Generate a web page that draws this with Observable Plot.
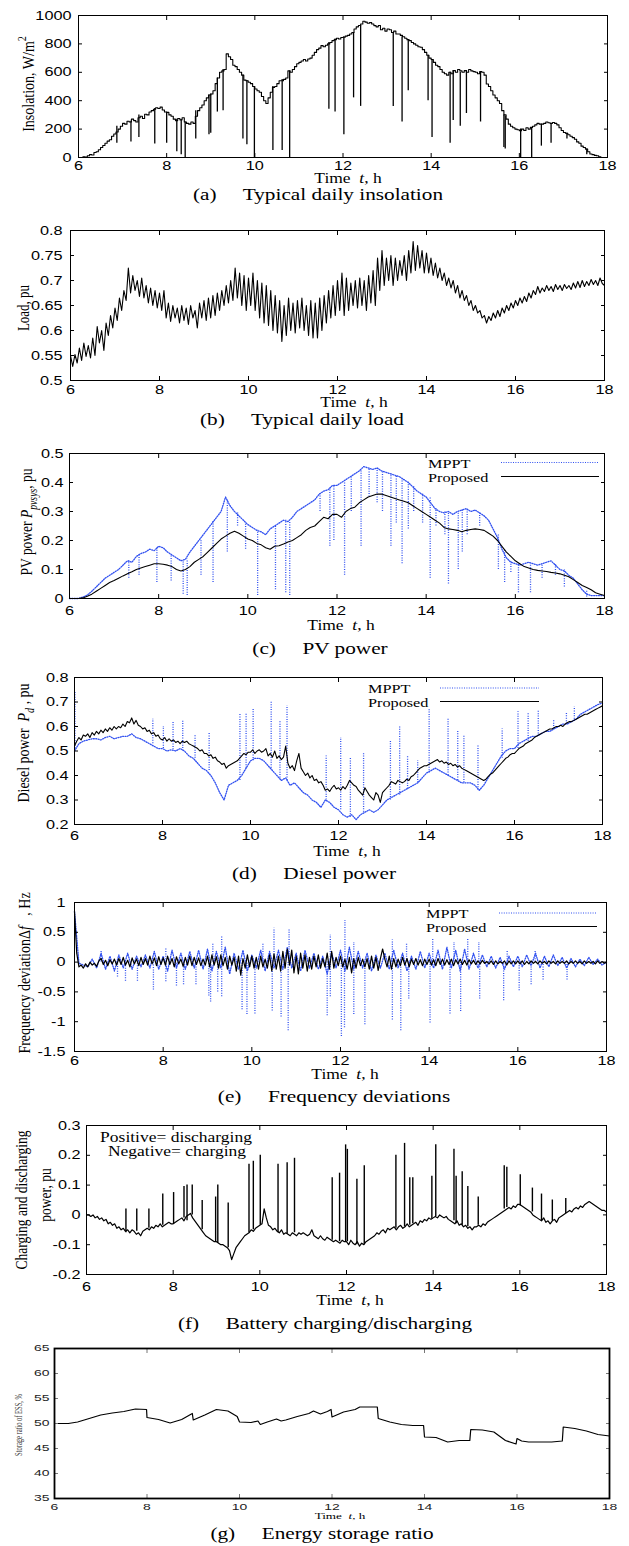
<!DOCTYPE html>
<html><head><meta charset="utf-8">
<script src="https://cdn.jsdelivr.net/npm/d3@7"></script>
<script src="https://cdn.jsdelivr.net/npm/@observablehq/plot@0.6"></script>
<style>
html,body{margin:0;padding:0;background:#fff;}
#wrap{position:relative;width:629px;height:1546px;background:#fff;overflow:hidden;}
</style></head><body><div id="wrap"></div>
<script>
// ---------------- DATA ----------------
const xTicks = [6, 8, 10, 12, 14, 16, 18];
const insolTicks = [0, 200, 400, 600, 800, 1000];
const loadTicks = [0.5, 0.55, 0.6, 0.65, 0.7, 0.75, 0.8];
const pvTicks = [0, 0.1, 0.2, 0.3, 0.4, 0.5];
const dieselTicks = [0.2, 0.3, 0.4, 0.5, 0.6, 0.7, 0.8];
const freqTicks = [-1.5, -1, -0.5, 0, 0.5, 1];
const battTicks = [-0.2, -0.1, 0, 0.1, 0.2, 0.3];
const socTicks = [35, 40, 45, 50, 55, 60, 65];

// insolation, W/m2, every 0.05 h from 6:00
const insolation = [
0,0,5,3,12,20,18,35,40,55,70,85,100,115,125,150,165,180,200,220,
240,235,255,250,270,260,250,280,290,275,305,300,320,330,340,350,345,355,335,320,
318,300,290,270,260,275,265,280,250,240,235,250,240,290,330,350,370,400,420,440,
447,470,520,560,600,610,620,730,710,690,650,640,620,600,580,545,540,530,520,500,
482,470,460,430,400,380,420,460,494,500,520,540,541,550,560,610,600,620,640,660,
670,680,690,680,694,700,720,740,760,770,788,780,790,800,810,823,830,840,835,845,
847,855,860,870,880,905,920,930,940,960,953,945,950,940,929,920,930,900,910,890,
905,900,880,890,870,870,860,850,840,830,823,810,800,790,780,776,760,740,720,700,
690,670,650,640,620,600,590,580,600,590,612,600,620,610,600,612,600,620,610,605,
600,590,605,600,580,518,500,470,440,420,400,380,330,300,270,235,220,210,200,195,
188,200,190,210,200,212,220,230,240,235,235,240,250,245,240,247,240,230,210,190,
176,170,160,150,140,129,110,100,80,70,59,40,25,20,15,12,5,0,0,0,
0];
// insolation dips: [time, low, high]
const insolationDips = [
[6.87,100,220],[7.19,110,255],[7.37,140,300],[7.73,95,345],[8.0,100,318],[8.23,40,270],[8.33,20,265],[8.42,0,250],
[8.66,130,330],[8.96,160,440],[9.0,170,447],[9.15,320,560],[9.28,330,620],[9.73,130,580],[9.82,90,540],[9.99,0,500],
[10.41,50,500],[10.62,50,550],[10.79,0,610],[11.68,340,810],[11.82,320,835],[12.02,160,850],[12.24,420,880],[12.4,360,930],
[13.14,360,880],[13.34,250,850],[13.48,470,830],[13.93,400,720],[14.02,140,690],[14.43,100,600],[14.5,260,612],[14.66,220,600],
[14.8,310,612],[15.12,250,600],[15.65,70,300],[15.68,60,290],[16.03,0,200],[16.28,0,210],[16.5,80,235],[16.72,100,240],
[17.08,130,170],[17.53,20,59]];

// load, pu, every 0.05 h
const load = [
.550,.528,.552,.535,.565,.540,.575,.548,.570,.545,.585,.550,.608,.575,.600,.560,.615,.590,.630,.605,
.645,.620,.665,.640,.680,.660,.725,.675,.710,.680,.700,.668,.705,.665,.690,.655,.685,.650,.680,.645,
.675,.640,.680,.625,.655,.618,.650,.625,.645,.615,.650,.620,.645,.612,.650,.625,.640,.605,.655,.625,
.660,.620,.665,.625,.670,.630,.675,.640,.680,.650,.690,.655,.700,.660,.725,.665,.715,.650,.710,.640,
.705,.650,.715,.640,.700,.625,.695,.615,.690,.610,.680,.600,.670,.595,.660,.578,.650,.590,.665,.600,
.655,.595,.660,.605,.665,.600,.650,.590,.660,.585,.655,.585,.665,.600,.670,.615,.680,.625,.690,.630,
.700,.640,.715,.630,.705,.640,.695,.650,.700,.645,.705,.650,.700,.640,.710,.655,.720,.650,.745,.680,
.760,.690,.745,.700,.750,.690,.745,.700,.740,.710,.750,.700,.760,.715,.778,.720,.770,.725,.760,.715,
.755,.715,.745,.710,.735,.705,.725,.700,.715,.690,.705,.685,.700,.675,.690,.665,.680,.660,.670,.650,
.660,.640,.650,.635,.640,.625,.630,.615,.628,.620,.635,.625,.640,.628,.645,.635,.650,.640,.655,.645,
.660,.650,.665,.655,.668,.658,.675,.665,.680,.672,.688,.675,.685,.678,.690,.680,.688,.678,.692,.682,
.690,.680,.692,.684,.690,.682,.695,.685,.698,.686,.700,.688,.698,.690,.702,.692,.700,.690,.705,.694,
.690];

// PV power, pu, every 0.1 h
const pvMppt = [
0,0,0,.005,.012,.025,.04,.055,.07,.08,
.09,.1,.115,.13,.125,.145,.155,.16,.17,.165,
.18,.175,.16,.15,.14,.13,.135,.16,.18,.2,
.22,.24,.26,.28,.3,.35,.32,.3,.285,.27,
.255,.245,.235,.23,.22,.24,.25,.26,.27,.265,
.28,.3,.31,.32,.33,.34,.36,.37,.375,.39,
.39,.4,.41,.42,.43,.44,.455,.45,.445,.45,
.44,.435,.43,.425,.42,.41,.4,.385,.37,.36,
.35,.33,.31,.3,.295,.3,.29,.3,.305,.31,
.3,.305,.295,.285,.27,.24,.21,.17,.14,.125,
.12,.115,.12,.125,.12,.115,.12,.125,.13,.115,
.1,.095,.08,.07,.05,.03,.015,.01,.01,.01,
.01];
const pvMpptDips = [
[7.33,.07,.13],[7.56,.08,.15],[7.96,.055,.175],[8.28,.06,.15],[8.55,.015,.13],[8.64,.01,.135],[8.95,.08,.2],[9.22,.055,.27],
[9.54,.16,.34],[9.77,.25,.3],[9.95,.17,.26],[10.22,.01,.235],[10.62,.03,.25],[10.85,.02,.27],[10.94,.01,.265],[11.62,.3,.36],
[11.84,.18,.38],[11.93,.2,.39],[12.17,.08,.4],[12.32,.3,.42],[12.54,.18,.44],[12.72,.35,.45],[12.9,.33,.45],[13.02,.3,.44],
[13.21,.18,.43],[13.33,.26,.425],[13.46,.12,.41],[13.6,.24,.405],[13.72,.3,.385],[13.92,.26,.36],[14.09,.07,.35],[14.22,.25,.31],
[14.42,.22,.3],[14.5,.05,.295],[14.72,.1,.3],[14.81,.16,.305],[14.92,.22,.31],[15.2,.25,.295],[15.62,.1,.22],[15.76,.055,.17],
[15.9,.09,.13],[16.07,.02,.12],[16.34,.02,.12],[16.6,.07,.12],[16.9,.08,.12],[17.1,.04,.1],[17.6,.005,.03]];
const pvProposed = [
0,0,0,.002,.008,.015,.025,.035,.045,.055,
.062,.07,.078,.085,.092,.1,.105,.11,.115,.12,
.12,.118,.115,.11,.1,.095,.1,.11,.125,.135,
.145,.16,.175,.19,.205,.215,.225,.232,.225,.215,
.205,.2,.19,.185,.175,.17,.18,.182,.188,.195,
.2,.21,.22,.235,.245,.25,.265,.28,.275,.29,
.29,.28,.3,.31,.315,.33,.34,.35,.355,.36,
.36,.355,.35,.345,.34,.335,.33,.32,.31,.3,
.29,.28,.27,.26,.245,.24,.238,.235,.23,.235,
.238,.24,.238,.235,.225,.215,.2,.18,.16,.145,
.13,.12,.11,.105,.1,.097,.095,.093,.09,.088,
.085,.08,.075,.065,.055,.045,.038,.03,.02,.015,
.01];

// Diesel power, pu
const dieselMppt = [ // every 0.1 h
.50,.53,.54,.545,.55,.55,.545,.555,.56,.55,
.555,.56,.56,.57,.555,.55,.54,.53,.52,.51,
.51,.50,.505,.50,.51,.50,.48,.47,.45,.43,
.42,.40,.37,.33,.30,.36,.37,.38,.40,.43,
.46,.47,.47,.46,.44,.42,.40,.38,.39,.36,
.37,.35,.33,.32,.30,.29,.27,.30,.29,.27,
.26,.24,.23,.24,.22,.24,.25,.26,.25,.26,
.28,.30,.31,.32,.33,.34,.35,.36,.37,.39,
.41,.42,.43,.42,.41,.40,.39,.38,.37,.37,
.37,.36,.34,.36,.39,.42,.45,.48,.50,.51,
.51,.53,.54,.55,.56,.56,.57,.58,.58,.59,
.60,.61,.61,.62,.63,.65,.66,.67,.68,.69,
.695];
const dieselMpptPeaks = [
[6.01,.50,.74],[7.78,.53,.63],[8.02,.51,.6],[8.24,.505,.62],[8.46,.5,.625],[8.74,.47,.565],[9.06,.42,.575],[9.76,.38,.65],
[9.9,.43,.655],[10.06,.46,.67],[10.47,.43,.70],[10.67,.39,.62],[10.83,.38,.685],[11.72,.3,.48],[12.05,.26,.555],[12.27,.23,.47],
[12.57,.25,.49],[13.18,.30,.545],[13.39,.32,.60],[13.57,.345,.48],[13.8,.37,.46],[14.06,.41,.67],[14.49,.40,.635],[14.71,.38,.58],
[14.85,.37,.56],[15.17,.34,.52],[15.72,.47,.59],[16.08,.51,.66],[16.31,.54,.655],[16.54,.56,.665],[16.89,.59,.63],[17.18,.61,.655],
[17.36,.62,.68]];
const dieselProposed = [ // every 0.05 h
.520,.540,.555,.545,.565,.560,.570,.555,.575,.565,.580,.570,.585,.575,.590,.580,.595,.585,.600,.590,
.600,.595,.610,.600,.620,.615,.635,.610,.625,.605,.600,.590,.595,.580,.585,.570,.575,.560,.565,.550,
.545,.555,.540,.550,.540,.545,.535,.540,.530,.540,.535,.540,.530,.525,.520,.515,.510,.500,.505,.490,
.490,.480,.485,.470,.475,.460,.455,.445,.450,.430,.440,.445,.450,.455,.460,.470,.480,.490,.485,.495,
.495,.505,.490,.500,.505,.495,.500,.510,.480,.490,.475,.500,.470,.480,.465,.475,.520,.450,.430,.440,
.420,.460,.490,.430,.415,.400,.410,.390,.400,.380,.385,.370,.375,.360,.340,.345,.335,.350,.360,.345,
.350,.340,.355,.345,.360,.380,.370,.360,.355,.340,.330,.320,.350,.335,.320,.310,.300,.330,.320,.290,
.330,.340,.350,.360,.375,.370,.365,.380,.375,.370,.375,.385,.380,.395,.400,.410,.420,.430,.435,.440,
.440,.445,.450,.455,.460,.465,.455,.460,.450,.455,.445,.450,.440,.445,.435,.440,.430,.425,.420,.415,
.410,.405,.400,.395,.390,.385,.380,.385,.395,.405,.410,.420,.430,.440,.450,.460,.470,.475,.485,.490,
.490,.500,.510,.515,.520,.530,.535,.540,.545,.555,.560,.565,.570,.575,.580,.585,.590,.590,.595,.600,
.600,.605,.600,.610,.615,.620,.620,.625,.630,.635,.640,.645,.650,.650,.655,.660,.665,.670,.675,.680,
.685];

// Frequency deviation, Hz
const freqMppt = [ // every 0.1 h
.85,-.02,-.05,-.08,.05,-.1,.15,-.12,.1,-.15,
.12,-.1,.15,-.12,.1,-.08,.12,-.1,.18,-.12,
.1,-.15,.2,-.1,.15,-.12,.18,-.1,.2,-.12,
.22,-.15,.18,-.1,.25,-.2,.15,-.12,.2,-.15,
.12,-.1,.2,-.15,.18,-.1,.2,-.12,.25,-.1,
.15,-.15,.2,-.1,.15,-.12,.1,-.2,.15,-.1,
.2,-.15,.25,-.12,.18,-.1,.15,-.15,.12,-.1,
.15,-.12,.2,-.1,.15,-.15,.1,-.12,.18,-.1,
.15,-.1,.2,-.12,.25,-.1,.2,-.15,.22,-.12,
.15,-.1,.12,-.08,.1,-.1,.08,-.12,.1,-.08,
.1,-.08,.12,-.06,.15,-.1,.1,-.08,.12,-.06,
.08,-.1,.06,-.08,.05,-.06,.08,-.04,.05,-.05,
0];
const freqMpptSpikes = [
[6.97,-.25,0],[7.15,-.32,0],[7.42,-.32,0],[7.78,-.47,0],[8.06,-.33,0],[8.3,-.4,0],[8.46,-.38,0],[8.74,-.38,0],
[9.03,-.57,0],[9.07,-.67,0],[9.23,-.5,0],[9.32,-.58,0],[9.78,-.8,0],[9.89,-.88,0],[10.07,-.87,0],[10.46,-.82,0],
[10.66,-.92,0],[10.82,-1.15,0],[11.7,-.9,0],[11.77,-.58,0],[12.02,-1.25,0],[12.09,-1.1,0],[12.3,-.88,0],[12.55,-1.05,0],
[13.17,-.97,0],[13.36,-1.15,0],[13.54,-.62,0],[14.02,-1.02,0],[14.47,-.87,0],[14.71,-.83,0],[15.14,-.62,0],[15.68,-.65,0],
[16.03,-.48,0],[16.3,-.38,0],[16.57,-.3,0],[17.11,-.3,0],
[6.6,0,.18],[8.06,0,.24],[9.12,0,.3],[9.32,0,.43],[10.25,0,.3],[10.5,0,.57],[10.84,0,.55],[11.77,0,.45],
[12.1,0,.7],[12.3,0,.33],[13.17,0,.37],[13.49,0,.3],[14.08,0,.4],[14.56,0,.33],[14.87,0,.38],[15.12,0,.33],
[15.76,0,.18],[16.39,0,.2]];
const freqProposed = [ // every 0.05 h
.85,.15,-.08,-.05,-.1,-.03,-.08,0,-.05,-.02,-.07,.02,.06,-.04,.03,-.06,.04,-.03,.05,-.05,
.06,-.04,.08,-.05,.03,-.08,.07,-.03,.05,-.06,.08,-.04,.06,-.05,.1,-.03,.07,-.06,.09,-.04,
.07,-.05,.1,-.04,.06,-.08,.09,-.03,.05,-.07,.08,-.05,.1,-.06,.08,-.04,.07,-.06,.05,-.05,
.1,-.08,.12,-.05,.09,-.1,.12,-.06,.08,-.12,.1,-.05,.08,-.15,.1,-.22,.06,-.1,.12,-.08,
.1,-.1,.08,-.12,.1,-.08,.05,-.1,.12,-.15,.14,-.12,.1,-.15,.18,-.1,.22,-.05,.2,-.18,
.1,-.2,.15,-.1,.12,-.15,.08,-.12,.1,-.08,.12,-.1,.06,-.08,.15,-.12,.18,-.1,.08,-.06,
.1,-.08,.05,-.12,.08,-.18,.06,-.1,.08,-.06,.05,-.08,.06,-.12,.1,-.1,.08,-.14,.06,.22,
.05,-.08,.1,-.12,.06,-.08,.05,-.06,.08,-.05,.06,-.08,.05,-.04,.06,-.05,.04,-.06,.05,-.04,
.05,-.05,.04,-.06,.06,-.04,.05,-.05,.04,-.04,.05,-.06,.04,-.03,.05,-.04,.03,-.05,.04,-.03,
.03,-.04,.02,-.03,.03,-.02,.01,-.03,.02,-.04,.02,-.03,.01,-.02,.02,-.05,.02,-.03,.02,-.03,
.02,-.03,.02,-.04,.01,-.03,.02,-.02,.01,-.03,.02,-.02,.01,-.03,.02,-.02,.01,-.03,.02,-.02,
.01,-.02,.02,-.03,.01,-.02,.02,-.02,.01,-.03,.02,-.02,.01,-.02,.01,-.03,.02,-.02,.01,-.02,
0];

// Battery charging/discharging power, pu, every 0.05 h
const battery = [
0,0,-.005,0,-.01,-.005,-.015,-.01,-.02,-.015,-.03,-.025,-.035,-.03,-.045,-.04,-.05,-.045,-.055,-.05,
-.06,-.05,-.055,-.065,-.06,-.07,-.055,-.05,-.045,-.05,-.04,-.045,-.035,-.04,-.03,-.04,-.035,-.03,-.025,-.03,
-.03,-.025,-.02,-.015,-.01,-.02,-.005,0,.005,-.01,-.02,-.03,-.04,-.05,-.06,-.07,-.075,-.08,-.085,-.09,
-.09,-.095,-.1,-.1,-.105,-.11,-.12,-.15,-.13,-.11,-.1,-.09,-.08,-.07,-.065,-.06,-.05,-.055,-.045,-.04,
-.035,-.03,.02,-.01,-.035,-.04,-.05,-.045,-.055,-.06,-.05,-.065,-.06,-.065,-.07,-.06,-.065,-.07,-.06,-.065,
-.06,-.065,-.07,-.065,-.05,-.07,-.075,-.08,-.07,-.08,-.085,-.075,-.08,-.085,-.09,-.085,-.09,-.095,-.085,-.09,
-.09,-.1,-.085,-.095,-.1,-.09,-.105,-.095,-.1,-.09,-.085,-.08,-.075,-.07,-.06,-.065,-.055,-.05,-.06,-.045,
-.05,-.045,-.04,-.05,-.04,-.035,-.045,-.04,-.03,-.04,-.035,-.03,-.025,-.035,-.02,-.025,-.015,-.02,-.01,-.015,
-.01,-.005,-.01,0,-.005,-.01,-.005,-.015,-.02,-.025,-.03,-.02,-.035,-.03,-.04,-.035,-.045,-.04,-.05,-.04,
-.04,-.035,-.04,-.03,-.035,-.025,-.02,-.015,-.01,-.005,0,.005,.01,.015,.02,.025,.02,.03,.025,.035,
.035,.03,.025,.02,.015,.01,0,-.005,-.01,-.015,-.02,-.01,-.025,-.02,-.03,-.02,-.015,-.025,-.01,-.005,
0,.005,.01,.015,.01,.02,.025,.02,.03,.025,.035,.04,.045,.04,.035,.03,.025,.02,.015,.015,
.01];
const batteryPeaks = [
[6.91,-.06,.02],[7.16,-.055,.02],[7.44,-.045,.02],[7.76,-.035,.07],[8.01,-.03,.075],[8.25,-.01,.095],[8.32,-.02,.1],[8.44,0,.1],
[8.67,-.05,.048],[8.98,-.09,.06],[9.03,-.095,.1],[9.27,-.11,.04],[9.75,-.06,.17],[9.85,-.05,.18],[10.01,-.035,.2],[10.42,-.06,.17],
[10.63,-.065,.175],[10.8,-.06,.19],[11.67,-.085,.125],[11.84,-.09,.14],[11.98,-.09,.235],[12.02,-.09,.22],[12.24,-.1,.12],[12.41,-.1,.165],
[13.14,-.045,.2],[13.34,-.04,.24],[13.46,-.035,.125],[13.53,-.03,.125],[13.97,-.015,.13],[14.06,-.005,.235],[14.48,-.02,.22],[14.53,-.03,.13],
[14.67,-.035,.145],[14.8,-.04,.095],[15.04,-.035,.06],[15.64,.02,.165],[15.7,.025,.16],[16.01,.03,.135],[16.29,.01,.09],[16.5,-.02,.07],
[16.75,-.02,.05],[17.06,.005,.055]];

// Energy storage ratio, %
const socTime = [6,6.3,6.5,6.75,7,7.25,7.5,7.75,7.99,8,8.25,8.5,8.75,8.98,9,9.25,9.5,9.75,9.95,10,10.25,10.4,10.45,10.6,10.7,10.8,10.9,11,11.25,11.5,11.6,11.75,11.9,11.98,12,12.25,12.5,12.6,12.98,13,13.25,13.5,13.75,13.98,14,14.25,14.5,14.75,14.98,15,15.25,15.5,15.75,15.98,16,16.1,16.25,16.5,16.75,16.98,17,17.25,17.5,17.75,18];
const socValue = [50,50,50.3,51,51.7,52.1,52.4,52.9,52.8,51.2,50.8,50.1,50.8,52,50.7,51.7,52.8,52.5,51.4,50.3,50.2,50.5,49.8,50.3,50.6,50.9,50.5,50.7,51.4,52,52.5,51.9,52.4,52.8,51.3,52.3,52.8,53.3,53.3,51,50.3,49.8,49.6,49.6,47.3,47.2,46.3,46.6,46.6,48.8,48.7,48.3,46.6,45.9,47,46.5,46.3,46.3,46.3,46.5,49.3,49,48.5,47.8,47.5];

// ---------------- DRAWING ----------------
const K = 1.25;
const BLUE = "#3050f0";
const SERIF = "'Liberation Serif','Times New Roman',serif";
const NS = "http://www.w3.org/2000/svg";
const wrap = document.getElementById("wrap");

const series = (vals, step) => vals.map((v, i) => ({t: 6 + i * step, v}));
const segs = arr => arr.map(([t, lo, hi]) => ({t, lo, hi}));

function panel(c) {
  const k = c.k ?? K, font = c.font ?? 13, tl = c.tickLen ?? 4, tc = c.tickColor ?? "#000";
  const fmt = c.fmt ?? (d => String(+d.toFixed(2)));
  const chart = Plot.plot({
    width: 629, height: c.bottom - c.top,
    marginLeft: c.fl, marginRight: 629 - c.fr, marginTop: c.ft - c.top, marginBottom: c.bottom - c.fb,
    x: {domain: [6, 18]},
    y: {domain: c.yDomain},
    style: {fontFamily: "'Liberation Sans', Arial, sans-serif", fontSize: font + "px", color: c.labelColor ?? "#000", background: "transparent", overflow: "visible"},
    marks: [
      ...c.marks,
      Plot.axisX(xTicks, {anchor: "bottom", tickSize: 0, tickPadding: c.padX, label: null, tickFormat: d => String(d)}),
      Plot.axisX(xTicks, {anchor: "bottom", tickSize: -tl, fill: "none", stroke: tc, label: null}),
      Plot.axisX(xTicks, {anchor: "top", tickSize: -tl, fill: "none", stroke: tc, label: null}),
      Plot.axisY(c.yTicks, {anchor: "left", tickSize: 0, tickPadding: c.padY, label: null, tickFormat: fmt}),
      Plot.axisY(c.yTicks, {anchor: "left", tickSize: -tl, fill: "none", stroke: tc, label: null}),
      Plot.axisY(c.yTicks, {anchor: "right", tickSize: -tl, fill: "none", stroke: tc, label: null}),
      Plot.frame({stroke: "#000", strokeWidth: c.frameW ?? 1})
    ]
  });
  chart.style.position = "absolute";
  chart.style.left = "0px";
  chart.style.top = c.top + "px";
  chart.querySelectorAll('g[aria-label$="tick label"] text').forEach(t => {
    const tr = t.getAttribute("transform") || "";
    t.setAttribute("transform", tr + ` scale(${k},1)`);
  });
  wrap.appendChild(chart);
  const svg = chart.tagName.toLowerCase() === "svg" ? chart : chart.querySelector("svg");
  return {svg, top: c.top};
}

function txt(p, {x, y, parts, size = 14, anchor = "middle", k = K, rot = false, family = SERIF, fill = "#000"}) {
  const t = document.createElementNS(NS, "text");
  t.setAttribute("transform", `translate(${x},${y - p.top}) scale(${k},1)` + (rot ? " rotate(-90)" : ""));
  t.setAttribute("text-anchor", anchor);
  t.setAttribute("font-family", family);
  t.setAttribute("font-size", size);
  t.setAttribute("fill", fill);
  t.setAttribute("y", (0.35 * size).toFixed(2));
  t.setAttribute("style", "white-space:pre");
  let shift = 0;
  for (const q of parts) {
    const o = typeof q === "string" ? {s: q} : q;
    const ts = document.createElementNS(NS, "tspan");
    const target = o.sub ? 0.3 * size : o.sup ? -0.45 * size : 0;
    if (target !== shift) { ts.setAttribute("dy", (target - shift).toFixed(2)); shift = target; }
    if (o.sub || o.sup) ts.setAttribute("font-size", (size * 0.72).toFixed(2));
    if (o.it) ts.setAttribute("font-style", "italic");
    ts.textContent = o.s;
    t.appendChild(ts);
  }
  p.svg.appendChild(t);
}

function legendLine(p, x1, x2, y, stroke, dash) {
  const l = document.createElementNS(NS, "line");
  l.setAttribute("x1", x1); l.setAttribute("x2", x2);
  l.setAttribute("y1", y - p.top); l.setAttribute("y2", y - p.top);
  l.setAttribute("stroke", stroke); l.setAttribute("stroke-width", 1.2);
  if (dash) l.setAttribute("stroke-dasharray", dash);
  p.svg.appendChild(l);
}

const timeLabel = (p, x, y, size = 14, k = K) =>
  txt(p, {x, y, size, k, parts: ["Time  ", {s: "t", it: true}, ", h"]});
const caption = (p, x, y, tag, title) =>
  txt(p, {x, y, size: 17, parts: [tag + "     " + title]});

const DASH = "1,1.4";
const line = (data, stroke, w, extra = {}) => Plot.line(data, {x: "t", y: "v", stroke, strokeWidth: w, ...extra});
const rule = (data, stroke, w, extra = {}) => Plot.ruleX(data, {x: "t", y1: "lo", y2: "hi", stroke, strokeWidth: w, ...extra});

// (a) insolation
{
  const p = panel({top: 0, bottom: 208, fl: 78, fr: 607, ft: 15, fb: 157, padX: 3, padY: 7,
    yDomain: [0, 1000], yTicks: insolTicks, fmt: d => String(d),
    marks: [line(series(insolation, 0.05), "#000", 1.1, {curve: "step-after"}), rule(segs(insolationDips), "#000", 1.3)]});
  txt(p, {x: 28, y: 84, rot: true, size: 14, parts: ["Insolation, W/m", {s: "2", sup: true}]});
  timeLabel(p, 348, 178.5);
  caption(p, 318, 194, "(a)", "Typical daily insolation");
}
// (b) load
{
  const p = panel({top: 212, bottom: 432, fl: 70, fr: 604, ft: 230, fb: 380, padX: 4, padY: 8,
    yDomain: [0.5, 0.8], yTicks: loadTicks,
    marks: [line(series(load, 0.05), "#000", 1.1)]});
  txt(p, {x: 23, y: 308, rot: true, size: 13, parts: ["Load, pu"]});
  timeLabel(p, 354, 402.5);
  caption(p, 302, 419, "(b)", "Typical daily load");
}
// (c) PV power
{
  const p = panel({top: 436, bottom: 660, fl: 69, fr: 604, ft: 453, fb: 598, padX: 7, padY: 6,
    yDomain: [0, 0.5], yTicks: pvTicks,
    marks: [line(series(pvMppt, 0.1), BLUE, 1.3, {strokeDasharray: DASH}), rule(segs(pvMpptDips), BLUE, 1.3, {strokeDasharray: DASH}),
            line(series(pvProposed, 0.1), "#000", 1.1)]});
  txt(p, {x: 26, y: 522, rot: true, size: 13.5, parts: ["PV power ", {s: "P", it: true}, {s: "pvsys", it: true, sub: true}, ", pu"]});
  txt(p, {x: 428, y: 463, anchor: "start", size: 13, parts: ["MPPT"]});
  txt(p, {x: 428, y: 477.5, anchor: "start", size: 13, parts: ["Proposed"]});
  legendLine(p, 501, 599, 462.5, BLUE, DASH);
  legendLine(p, 501, 599, 476.5, "#000");
  timeLabel(p, 341, 625);
  caption(p, 320, 648, "(c)", "PV power");
}
// (d) diesel power
{
  const p = panel({top: 662, bottom: 885, fl: 74, fr: 602, ft: 677, fb: 824, padX: 6, padY: 6,
    yDomain: [0.2, 0.8], yTicks: dieselTicks,
    marks: [line(series(dieselMppt, 0.1), BLUE, 1.3, {strokeDasharray: DASH}), rule(segs(dieselMpptPeaks), BLUE, 1.3, {strokeDasharray: DASH}),
            line(series(dieselProposed, 0.05), "#000", 1.1)]});
  txt(p, {x: 23, y: 743, rot: true, size: 14, parts: ["Diesel power  ", {s: "P", it: true}, {s: "d", it: true, sub: true}, " , pu"]});
  txt(p, {x: 368, y: 688.5, anchor: "start", size: 13, parts: ["MPPT"]});
  txt(p, {x: 368, y: 702, anchor: "start", size: 13, parts: ["Proposed"]});
  legendLine(p, 440, 539, 688, BLUE, DASH);
  legendLine(p, 440, 539, 701.5, "#000");
  timeLabel(p, 347, 851);
  caption(p, 314, 873, "(d)", "Diesel power");
}
// (e) frequency deviations
{
  const p = panel({top: 888, bottom: 1108, fl: 74, fr: 606, ft: 902, fb: 1051, padX: 4.5, padY: 9,
    yDomain: [-1.5, 1], yTicks: freqTicks, fmt: d => String(d),
    marks: [line(series(freqMppt, 0.1), BLUE, 1.3, {strokeDasharray: DASH}), rule(segs(freqMpptSpikes), BLUE, 1.3, {strokeDasharray: DASH}),
            line(series(freqProposed, 0.05), "#000", 1.2)]});
  txt(p, {x: 24, y: 973, rot: true, size: 14, parts: ["Frequency deviation", "Δ", {s: "f", it: true}, "   , Hz"]});
  txt(p, {x: 426, y: 913.5, anchor: "start", size: 13, parts: ["MPPT"]});
  txt(p, {x: 426, y: 927, anchor: "start", size: 13, parts: ["Proposed"]});
  legendLine(p, 499, 597, 913, BLUE, DASH);
  legendLine(p, 499, 597, 926.5, "#000");
  timeLabel(p, 345, 1074);
  caption(p, 334, 1096, "(e)", "Frequency deviations");
}
// (f) battery
{
  const p = panel({top: 1110, bottom: 1336, fl: 86, fr: 606, ft: 1125, fb: 1274, padX: 7.5, padY: 6,
    yDomain: [-0.2, 0.3], yTicks: battTicks,
    marks: [line(series(battery, 0.05), "#000", 1.2), rule(segs(batteryPeaks), "#000", 1.4)]});
  txt(p, {x: 21, y: 1200, rot: true, size: 13.5, parts: ["Charging and discharging"]});
  txt(p, {x: 45, y: 1195, rot: true, size: 13.5, parts: ["power, pu"]});
  txt(p, {x: 176, y: 1137, size: 14, parts: ["Positive= discharging"]});
  txt(p, {x: 177, y: 1151, size: 14, parts: ["Negative= charging"]});
  timeLabel(p, 350, 1300);
  caption(p, 325, 1323, "(f)", "Battery charging/discharging");
}
// (g) storage ratio
{
  const kg = 1.55;
  const p = panel({top: 1338, bottom: 1546, fl: 54, fr: 609, ft: 1348, fb: 1498, padX: 5, padY: 5,
    font: 9, k: kg, tickColor: "#777", frameW: 1.8, labelColor: "#222",
    yDomain: [35, 65], yTicks: socTicks, fmt: d => String(d),
    marks: [Plot.line(socTime.map((t, i) => ({t, v: socValue[i]})), {x: "t", y: "v", stroke: "#000", strokeWidth: 1.2})]});
  txt(p, {x: 18, y: 1425, rot: true, size: 6.5, k: kg, parts: ["Storage ratio of ESS, %"], fill: "#333"});
  timeLabel(p, 340, 1516.5, 8.5, kg);
  caption(p, 322, 1533, "(g)", "Energy storage ratio");
}
</script></body></html>
